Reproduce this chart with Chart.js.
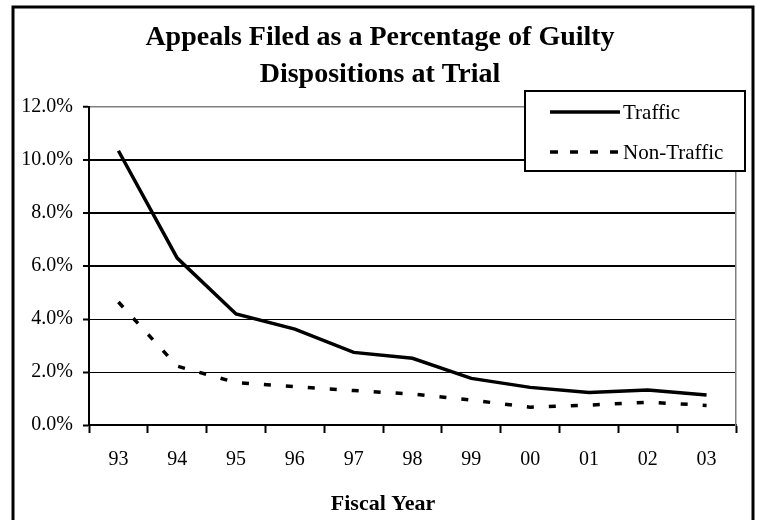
<!DOCTYPE html>
<html>
<head>
<meta charset="utf-8">
<script src="https://cdn.jsdelivr.net/npm/chart.js@4.4.1/dist/chart.umd.min.js"></script>
<style>
  html, body { margin: 0; padding: 0; background: #fff; }
  #wrap { width: 760px; height: 520px; position: relative; }
</style>
</head>
<body>
<div id="wrap"><canvas id="chart"></canvas></div>
<script>
const years = ['93', '94', '95', '96', '97', '98', '99', '00', '01', '02', '03'];
const traffic = [10.35, 6.30, 4.19, 3.62, 2.74, 2.52, 1.76, 1.42, 1.23, 1.32, 1.13];
const nonTraffic = [4.64, 2.22, 1.60, 1.45, 1.30, 1.17, 0.94, 0.67, 0.75, 0.86, 0.74];
const titleLines = ['Appeals Filed as a Percentage of Guilty', 'Dispositions at Trial'];
const xTitle = 'Fiscal Year';

const serif = '"Liberation Serif", "Times New Roman", serif';

// frame, legend box and x axis title drawn on top of the chart
const decorations = {
    id: 'decorations',
    beforeDraw(chart) {
        const ctx = chart.ctx;
        ctx.save();
        ctx.fillStyle = '#fff';
        ctx.fillRect(0, 0, chart.width, chart.height);
        ctx.restore();
    },
    afterDraw(chart) {
        const ctx = chart.ctx;
        const area = chart.chartArea;
        ctx.save();

        // outer frame (bottom runs off the page)
        ctx.strokeStyle = '#000';
        ctx.lineWidth = 3;
        ctx.beginPath();
        ctx.moveTo(13, chart.height + 5);
        ctx.lineTo(13, 7);
        ctx.lineTo(753, 7);
        ctx.lineTo(753, chart.height + 5);
        ctx.stroke();

        // legend
        const bx = area.right - 211, by = area.top - 16, bw = 220, bh = 80;
        ctx.fillStyle = '#fff';
        ctx.fillRect(bx, by, bw, bh);
        ctx.lineWidth = 2;
        ctx.strokeRect(bx, by, bw, bh);
        ctx.font = '21px ' + serif;
        ctx.textBaseline = 'middle';
        ctx.textAlign = 'left';
        chart.data.datasets.forEach((ds, i) => {
            const y = by + 21 + i * 40;
            ctx.beginPath();
            ctx.lineWidth = ds.borderWidth;
            ctx.setLineDash(ds.legendDash || []);
            ctx.moveTo(bx + 25, y);
            ctx.lineTo(bx + 95, y);
            ctx.stroke();
            ctx.setLineDash([]);
            ctx.fillStyle = '#000';
            ctx.fillText(ds.label, bx + 98, y + 1);
        });

        // x axis title
        ctx.font = 'bold 22px ' + serif;
        ctx.textAlign = 'center';
        ctx.fillText(xTitle, chart.width / 2 + 3, 504);
        ctx.restore();
    }
};

new Chart(document.getElementById('chart'), {
    type: 'line',
    data: {
        labels: years,
        datasets: [
            {
                label: 'Traffic',
                data: traffic,
                borderColor: '#000',
                borderWidth: 3.5,
                pointRadius: 0,
                tension: 0
            },
            {
                label: 'Non-Traffic',
                data: nonTraffic,
                borderColor: '#000',
                borderWidth: 3.5,
                borderDash: [7, 15],
                legendDash: [8, 12],
                pointRadius: 0,
                tension: 0
            }
        ]
    },
    options: {
        responsive: true,
        maintainAspectRatio: false,
        animation: false,
        layout: { padding: { left: 0, right: 0, top: 0, bottom: 0 } },
        plugins: {
            legend: { display: false },
            tooltip: { enabled: false },
            title: {
                display: true,
                text: titleLines,
                color: '#000',
                font: { family: serif, size: 28, weight: 'bold', lineHeight: 1.3 },
                padding: { top: 20, bottom: 14.2 }
            }
        },
        scales: {
            x: {
                offset: true,
                afterFit(scale) { scale.height = 95; },
                grid: {
                    offset: true,
                    drawOnChartArea: false,
                    drawTicks: true,
                    tickLength: 8,
                    tickColor: '#000',
                    tickWidth: 2
                },
                border: { display: true, color: '#000', width: 2 },
                ticks: {
                    color: '#000',
                    padding: 15,
                    maxRotation: 0,
                    font: { family: serif, size: 20 }
                }
            },
            y: {
                min: 0,
                max: 12,
                afterFit(scale) { scale.width = 89; },
                grid: {
                    color: ctx => ctx.index === 6 ? '#808080' : '#000',
                    lineWidth: ctx => (ctx.index >= 3 && ctx.index <= 5) ? 2 : (ctx.index === 6 ? 1.5 : 1),
                    tickLength: 6,
                    tickColor: '#000',
                    tickWidth: 2
                },
                border: { display: true, color: '#000', width: 2 },
                ticks: {
                    stepSize: 2,
                    color: '#000',
                    padding: 10,
                    font: { family: serif, size: 20 },
                    callback: v => v.toFixed(1) + '%'
                }
            },
            y2: {
                position: 'right',
                afterFit(scale) { scale.width = 24; },
                grid: { display: false },
                ticks: { display: false },
                border: { display: true, color: '#808080', width: 1.5 }
            }
        }
    },
    plugins: [decorations]
});
</script>
</body>
</html>
